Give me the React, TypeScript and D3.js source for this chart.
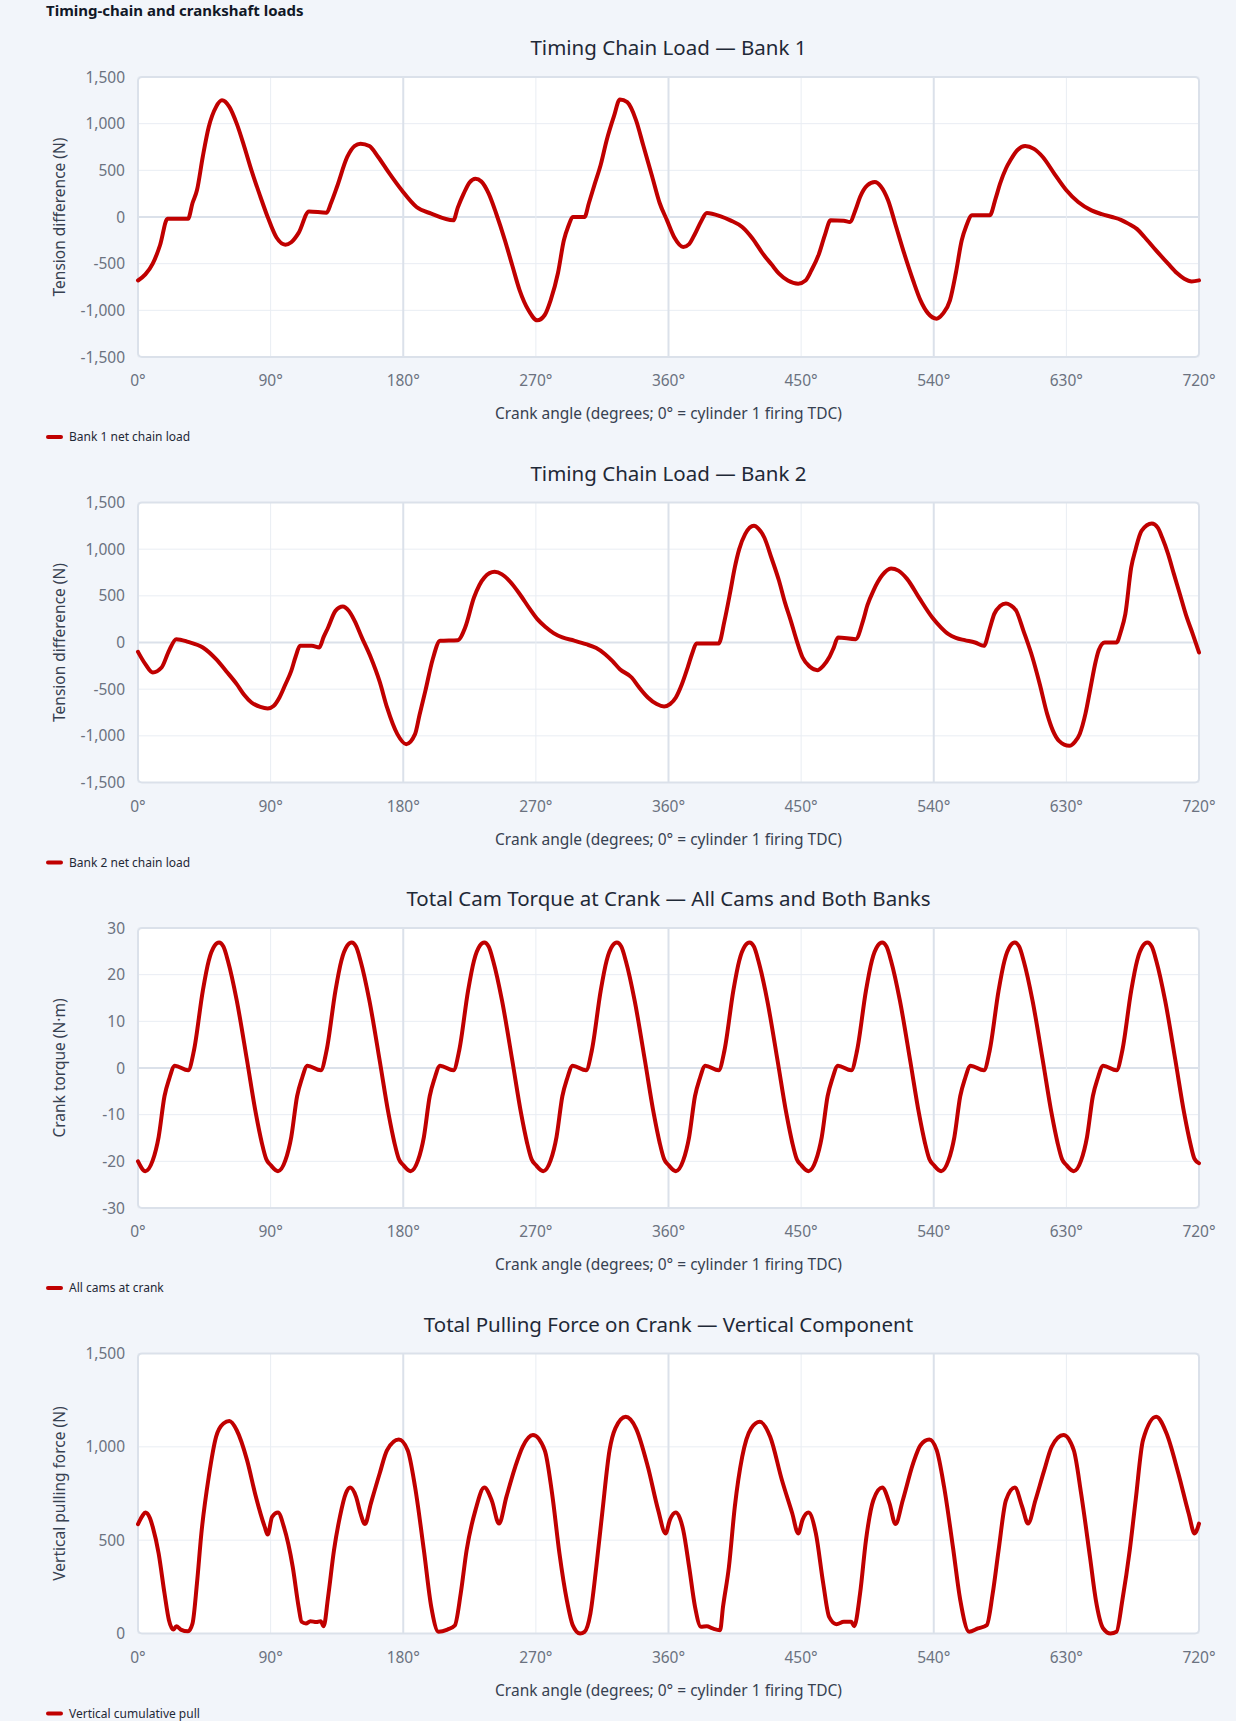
import React, { useEffect, useRef } from 'react';
import * as d3 from 'd3';

// crank angle ticks shared by every panel
const angleTicks = [0, 90, 180, 270, 360, 450, 540, 630, 720];
const tensionTicks = [-1500, -1000, -500, 0, 500, 1000, 1500];
const torqueTicks = [-30, -20, -10, 0, 10, 20, 30];
const pullTicks = [0, 500, 1000, 1500];

// Bank 1 net chain load (N)
const bank1Angles = [
  0, 5, 10, 15, 20, 34, 37, 40, 44, 48, 53, 57, 62, 67, 72, 77, 83, 88, 94, 100,
  104, 109, 116, 128, 131, 135, 142, 147, 151, 157, 163, 170, 179, 189, 199, 214, 217, 221, 225, 229,
  233, 238, 243, 249, 254, 259, 265, 271, 276, 280, 285, 289, 292, 295, 303, 306, 310, 314, 318, 323,
  327, 332, 338, 343, 349, 354, 359, 364, 370, 374, 378, 382, 386, 395, 402, 410, 417, 424, 430, 435,
  441, 448, 453, 457, 462, 466, 470, 479, 483, 487, 490, 495, 500, 504, 509, 514, 520, 526, 531, 536,
  542, 546, 551, 555, 559, 562, 566, 578, 582, 585, 589, 592, 597, 602, 608, 614, 622, 630, 638, 647,
  654, 661, 667, 672, 678, 683, 691, 699, 705, 710, 715, 720
];
const bank1Values = [
  -680, -615, -500, -300, -20, -18, 150, 286, 650, 964, 1180, 1250, 1180, 1000, 760, 500, 220, 0, -220, -296,
  -270, -170, 60, 46, 150, 321, 643, 760, 786, 760, 643, 480, 286, 107, 36, -36, 100, 250, 370, 411,
  380, 250, 40, -250, -520, -786, -1000, -1107, -1050, -893, -600, -250, -100, 0, 0, 150, 357, 560, 820, 1080,
  1260, 1230, 1036, 760, 429, 150, -36, -220, -321, -290, -179, -50, 43, 10, -36, -107, -230, -393, -510, -607,
  -680, -714, -680, -571, -400, -200, -36, -40, -54, 80, 214, 340, 375, 330, 179, -80, -393, -680, -893, -1030,
  -1089, -1040, -893, -600, -250, -100, 18, 18, 200, 357, 520, 607, 720, 761, 730, 643, 460, 286, 160, 71,
  30, 0, -30, -71, -130, -214, -360, -500, -600, -661, -690, -679
];

// Bank 2 net chain load (N)
const bank2Angles = [
  0, 5, 10, 16, 21, 26, 34, 44, 53, 60, 67, 72, 77, 83, 88, 92, 96, 100, 104, 107,
  110, 118, 123, 126, 129, 134, 139, 143, 147, 152, 158, 164, 169, 176, 182, 188, 191, 195, 200, 205,
  217, 222, 228, 235, 242, 247, 252, 259, 266, 271, 277, 282, 288, 296, 304, 311, 317, 322, 327, 335,
  340, 346, 352, 357, 361, 365, 369, 373, 376, 379, 394, 398, 402, 405, 408, 412, 418, 421, 425, 430,
  435, 439, 443, 447, 451, 456, 461, 465, 469, 472, 475, 487, 492, 495, 499, 505, 511, 516, 522, 530,
  539, 545, 550, 555, 561, 568, 574, 578, 581, 585, 589, 592, 596, 601, 607, 612, 617, 621, 625, 632,
  636, 639, 643, 646, 650, 652, 656, 664, 667, 670, 674, 677, 681, 688, 692, 695, 699, 703, 707, 711,
  716, 720
];
const bank2Values = [
  -100, -232, -321, -268, -89, 36, 7, -54, -179, -310, -446, -560, -643, -690, -707, -680, -589, -450, -304, -150,
  -36, -36, -54, 60, 161, 339, 386, 340, 232, 50, -161, -420, -696, -982, -1089, -982, -780, -518, -179, 18,
  25, 161, 482, 696, 757, 730, 661, 520, 357, 250, 161, 100, 54, 20, -18, -60, -125, -200, -286, -375,
  -480, -589, -660, -686, -660, -589, -450, -268, -120, -11, -11, 232, 550, 804, 1000, 1161, 1250, 1220, 1125, 900,
  661, 430, 232, 20, -161, -260, -296, -250, -161, -60, 54, 36, 232, 400, 554, 720, 793, 770, 679, 480,
  268, 160, 89, 50, 25, 0, -36, 150, 304, 390, 418, 400, 339, 120, -161, -450, -768, -950, -1054, -1107,
  -1060, -982, -760, -518, -196, -80, 0, 0, 120, 304, 804, 1000, 1196, 1275, 1230, 1125, 950, 732, 520, 304,
  80, -107
];

// Total cam torque at crank (N·m)
const torqueAngles = [
  0, 5, 10, 14, 18, 21, 25, 34, 38, 44, 48, 52, 55, 58, 61, 67, 74, 80, 84, 87,
  90, 95, 100, 104, 108, 111, 115, 124, 128, 134, 138, 142, 145, 148, 151, 157, 164, 170, 174, 177,
  180, 185, 190, 194, 198, 201, 205, 214, 218, 224, 228, 232, 235, 238, 241, 247, 254, 260, 264, 267,
  270, 275, 280, 284, 288, 291, 295, 304, 308, 314, 318, 322, 325, 328, 331, 337, 344, 350, 354, 357,
  360, 365, 370, 374, 378, 381, 385, 394, 398, 404, 408, 412, 415, 418, 421, 427, 434, 440, 444, 447,
  450, 455, 460, 464, 468, 471, 475, 484, 488, 494, 498, 502, 505, 508, 511, 517, 524, 530, 534, 537,
  540, 545, 550, 554, 558, 561, 565, 574, 578, 584, 588, 592, 595, 598, 601, 607, 614, 620, 624, 627,
  630, 635, 640, 644, 648, 651, 655, 664, 668, 674, 678, 682, 685, 688, 691, 697, 704, 710, 714, 717,
  720
];
const torqueValues = [
  -20, -22.1, -19.8, -14.8, -6, -2.5, 0.5, -0.5, 3.8, 16.6, 23, 26.2, 26.9, 26, 23, 14.5, 1.6, -9.8, -16, -19.5,
  -20.8, -22.1, -19.8, -14.8, -6, -2.5, 0.5, -0.5, 3.8, 16.6, 23, 26.2, 26.9, 26, 23, 14.5, 1.6, -9.8, -16, -19.5,
  -20.8, -22.1, -19.8, -14.8, -6, -2.5, 0.5, -0.5, 3.8, 16.6, 23, 26.2, 26.9, 26, 23, 14.5, 1.6, -9.8, -16, -19.5,
  -20.8, -22.1, -19.8, -14.8, -6, -2.5, 0.5, -0.5, 3.8, 16.6, 23, 26.2, 26.9, 26, 23, 14.5, 1.6, -9.8, -16, -19.5,
  -20.8, -22.1, -19.8, -14.8, -6, -2.5, 0.5, -0.5, 3.8, 16.6, 23, 26.2, 26.9, 26, 23, 14.5, 1.6, -9.8, -16, -19.5,
  -20.8, -22.1, -19.8, -14.8, -6, -2.5, 0.5, -0.5, 3.8, 16.6, 23, 26.2, 26.9, 26, 23, 14.5, 1.6, -9.8, -16, -19.5,
  -20.8, -22.1, -19.8, -14.8, -6, -2.5, 0.5, -0.5, 3.8, 16.6, 23, 26.2, 26.9, 26, 23, 14.5, 1.6, -9.8, -16, -19.5,
  -20.8, -22.1, -19.8, -14.8, -6, -2.5, 0.5, -0.5, 3.8, 16.6, 23, 26.2, 26.9, 26, 23, 14.5, 1.6, -9.8, -16, -19.5,
  -20.4
];

// Vertical cumulative pull on crank (N)
const pullAngles = [
  0, 3, 5, 8, 10, 14, 18, 21, 24, 26, 29, 34, 37, 40, 43, 48, 53, 58, 62, 67,
  74, 80, 86, 88, 91, 95, 99, 105, 109, 111, 114, 117, 121, 124, 126, 129, 133, 137, 141, 144,
  148, 151, 154, 158, 164, 169, 177, 183, 188, 194, 199, 204, 210, 215, 219, 223, 229, 235, 240, 245,
  250, 256, 261, 268, 276, 281, 286, 291, 295, 300, 303, 307, 311, 315, 320, 324, 331, 338, 346, 353,
  358, 361, 365, 370, 374, 378, 382, 386, 390, 395, 397, 401, 405, 410, 416, 422, 429, 437, 444, 448,
  451, 455, 460, 465, 469, 474, 479, 484, 486, 490, 494, 499, 505, 510, 514, 519, 526, 531, 537, 542,
  547, 553, 558, 564, 570, 576, 580, 584, 589, 595, 600, 604, 609, 615, 620, 628, 635, 640, 646, 650,
  655, 660, 664, 668, 673, 677, 682, 691, 698, 706, 713, 717, 720
];
const pullValues = [
  586, 630, 648, 620, 571, 429, 214, 71, 21, 39, 21, 12, 54, 268, 536, 839, 1054, 1125, 1138, 1089,
  929, 732, 571, 530, 625, 648, 571, 357, 143, 63, 54, 66, 61, 66, 39, 196, 446, 625, 750, 782,
  732, 643, 586, 696, 857, 982, 1039, 982, 786, 446, 143, 9, 21, 43, 214, 446, 661, 782, 714, 589,
  732, 893, 1000, 1063, 982, 750, 429, 179, 45, 0, 9, 107, 357, 643, 982, 1100, 1161, 1098, 893, 661,
  536, 610, 648, 554, 357, 143, 36, 39, 27, 18, 143, 357, 679, 946, 1098, 1134, 1054, 821, 643, 536,
  610, 648, 536, 268, 89, 50, 63, 63, 39, 214, 500, 714, 782, 696, 586, 714, 911, 1009, 1039, 982,
  786, 464, 179, 9, 27, 45, 214, 446, 714, 782, 679, 589, 714, 875, 1000, 1063, 982, 750, 411, 179,
  27, 0, 9, 179, 446, 714, 1036, 1161, 1071, 857, 643, 536, 589
];

const panels = [
  { title: 'Timing Chain Load — Bank 1', yLabel: 'Tension difference (N)', legend: 'Bank 1 net chain load', angles: bank1Angles, values: bank1Values, ticks: tensionTicks },
  { title: 'Timing Chain Load — Bank 2', yLabel: 'Tension difference (N)', legend: 'Bank 2 net chain load', angles: bank2Angles, values: bank2Values, ticks: tensionTicks },
  { title: 'Total Cam Torque at Crank — All Cams and Both Banks', yLabel: 'Crank torque (N·m)', legend: 'All cams at crank', angles: torqueAngles, values: torqueValues, ticks: torqueTicks },
  { title: 'Total Pulling Force on Crank — Vertical Component', yLabel: 'Vertical pulling force (N)', legend: 'Vertical cumulative pull', angles: pullAngles, values: pullValues, ticks: pullTicks }
];

const FONT = '"Noto Sans", "Open Sans", sans-serif';
const RED = '#c00000';

const App = () => {
  const svgRef = useRef(null);

  useEffect(() => {
    const width = 1236;
    const height = 1721;
    const left = 138;
    const right = 1199;
    const step = 425.5;

    d3.select(svgRef.current).selectAll('*').remove();
    const svg = d3.select(svgRef.current)
      .attr('width', width)
      .attr('height', height);

    svg.append('rect')
      .attr('width', width)
      .attr('height', height)
      .attr('fill', '#f2f5fa');

    // page heading
    svg.append('text')
      .attr('x', 46)
      .attr('y', 16)
      .attr('font-family', FONT)
      .attr('font-size', 15)
      .attr('font-weight', 700)
      .attr('fill', '#111827')
      .text('Timing-chain and crankshaft loads');

    const fmt = d3.format(',');

    panels.forEach((p, i) => {
      const off = i * step;
      const top = 77 + off;
      const bottom = 357 + off;

      const x = d3.scaleLinear().domain([0, 720]).range([left, right]);
      const y = d3.scaleLinear()
        .domain([p.ticks[0], p.ticks[p.ticks.length - 1]])
        .range([bottom, top]);

      const g = svg.append('g');

      // title
      g.append('text')
        .attr('x', (left + right) / 2)
        .attr('y', 55 + off)
        .attr('text-anchor', 'middle')
        .attr('font-family', FONT)
        .attr('font-size', 20.5)
        .attr('fill', '#1f2937')
        .text(p.title);

      // plot background
      g.append('rect')
        .attr('x', left)
        .attr('y', top)
        .attr('width', right - left)
        .attr('height', bottom - top)
        .attr('rx', 4)
        .attr('fill', '#ffffff');

      // horizontal grid
      p.ticks.forEach(t => {
        const isZero = t === 0 && t !== p.ticks[0];
        g.append('line')
          .attr('x1', left)
          .attr('x2', right)
          .attr('y1', y(t))
          .attr('y2', y(t))
          .attr('stroke', isZero ? '#dbe1ea' : '#e9edf3')
          .attr('stroke-width', isZero ? 2 : 1);
      });

      // vertical grid
      angleTicks.forEach(a => {
        const major = a === 180 || a === 360 || a === 540;
        g.append('line')
          .attr('x1', x(a))
          .attr('x2', x(a))
          .attr('y1', top)
          .attr('y2', bottom)
          .attr('stroke', major ? '#dbe1ea' : '#e9edf3')
          .attr('stroke-width', major ? 2 : 1);
      });

      // border
      g.append('rect')
        .attr('x', left)
        .attr('y', top)
        .attr('width', right - left)
        .attr('height', bottom - top)
        .attr('rx', 4)
        .attr('fill', 'none')
        .attr('stroke', '#dbe1ea')
        .attr('stroke-width', 2);

      // y tick labels
      p.ticks.forEach(t => {
        g.append('text')
          .attr('x', 125)
          .attr('y', y(t) + 5.5)
          .attr('text-anchor', 'end')
          .attr('font-family', FONT)
          .attr('font-size', 15.5)
          .attr('fill', '#6b7280')
          .text(fmt(t).replace('−', '-'));
      });

      // x tick labels
      angleTicks.forEach(a => {
        g.append('text')
          .attr('x', x(a))
          .attr('y', 386 + off)
          .attr('text-anchor', 'middle')
          .attr('font-family', FONT)
          .attr('font-size', 15.5)
          .attr('fill', '#6b7280')
          .text(a + '°');
      });

      // axis titles
      g.append('text')
        .attr('x', (left + right) / 2)
        .attr('y', 419 + off)
        .attr('text-anchor', 'middle')
        .attr('font-family', FONT)
        .attr('font-size', 15.5)
        .attr('fill', '#374151')
        .text('Crank angle (degrees; 0° = cylinder 1 firing TDC)');

      g.append('text')
        .attr('transform', `translate(65, ${(top + bottom) / 2}) rotate(-90)`)
        .attr('text-anchor', 'middle')
        .attr('font-family', FONT)
        .attr('font-size', 15.5)
        .attr('fill', '#374151')
        .text(p.yLabel);

      // series line
      const pts = p.angles.map((a, k) => [a, p.values[k]] as [number, number]);
      const line = d3.line<[number, number]>()
        .x(d => x(d[0]))
        .y(d => y(d[1]))
        .curve(d3.curveMonotoneX);

      g.append('path')
        .datum(pts)
        .attr('d', line)
        .attr('fill', 'none')
        .attr('stroke', RED)
        .attr('stroke-width', 4)
        .attr('stroke-linejoin', 'round')
        .attr('stroke-linecap', 'round');

      // legend
      g.append('line')
        .attr('x1', 48)
        .attr('x2', 61)
        .attr('y1', 437 + off)
        .attr('y2', 437 + off)
        .attr('stroke', RED)
        .attr('stroke-width', 4)
        .attr('stroke-linecap', 'round');

      g.append('text')
        .attr('x', 69)
        .attr('y', 441 + off)
        .attr('font-family', FONT)
        .attr('font-size', 12)
        .attr('fill', '#1f2937')
        .text(p.legend);
    });
  }, []);

  return (
    <svg
      ref={svgRef}
      style={{ position: 'absolute', left: 0, top: 0, display: 'block' }}
    ></svg>
  );
};

export default App;
